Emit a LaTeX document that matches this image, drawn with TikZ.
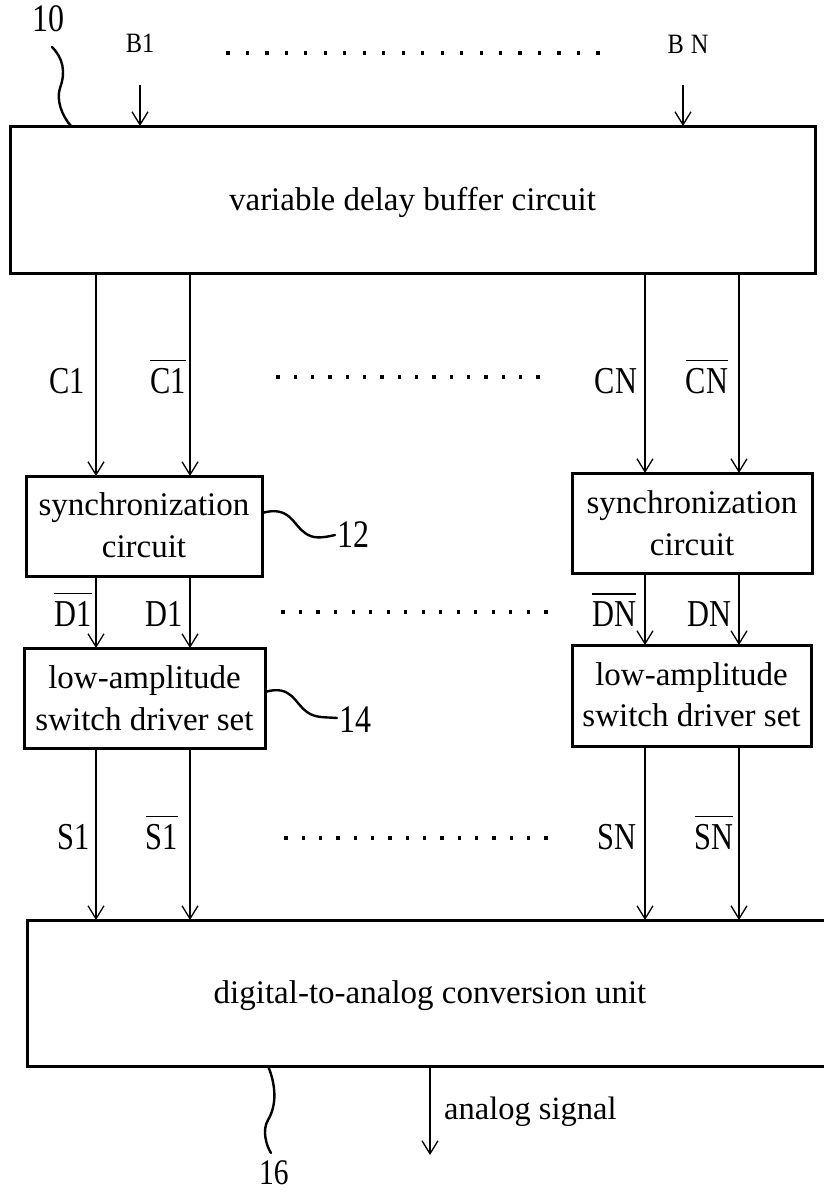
\documentclass[tikz,border=0pt]{standalone}
\usepackage{fontspec}
\setmainfont{Liberation Serif}
\newfontfamily\lblf{Liberation Serif}[FakeStretch=0.8]
\newfontfamily\numf{Liberation Serif}[FakeStretch=0.82]
\newfontfamily\bfnt{Liberation Serif}[FakeStretch=0.87]
\usetikzlibrary{arrows.meta}
\newcommand\ovbar[1]{\vbox{\hrule height 1.3pt\kern 6.5pt\hbox{#1}}}
\begin{document}
\begin{tikzpicture}[x=1pt,y=-1pt,
 blk/.style={draw,line width=3pt,inner sep=0pt,outer sep=0pt},
 arr/.style={line width=1.3pt,-{Straight Barb[length=13pt,width=16pt,line width=1.3pt]}},
 txt/.style={inner sep=0pt,anchor=base,font=\fontsize{33}{38}\selectfont},
 lbl/.style={inner sep=0pt,anchor=base,font=\lblf\fontsize{38}{40}\selectfont},
 num/.style={inner sep=0pt,anchor=base west,font=\numf\fontsize{39}{44}\selectfont},
 inl/.style={inner sep=0pt,anchor=base,font=\bfnt\fontsize{28}{30}\selectfont},
 sq/.style={line width=2.4pt,line cap=round}]
\fill[white] (0,0) rectangle (823,1195);
\useasboundingbox (0,0) rectangle (823,1195);

% blocks
\node[blk,minimum width=805pt,minimum height=147pt] (vdb) at (412.5,199.5) {};
\node[txt] (tvdb) at (412.5,210) {variable delay buffer circuit};
\node[blk,minimum width=236pt,minimum height=100pt] (sy1) at (144,526) {};
\node[txt] (tsy1a) at (144,515) {synchronization};
\node[txt] (tsy1b) at (144,557) {circuit};
\node[blk,minimum width=240pt,minimum height=100pt] (syN) at (692,523) {};
\node[txt] (tsyNa) at (692,513) {synchronization};
\node[txt] (tsyNb) at (692,555) {circuit};
\node[blk,minimum width=241pt,minimum height=100pt] (la1) at (144.5,698) {};
\node[txt] (tla1a) at (144.5,688) {low-amplitude};
\node[txt] (tla1b) at (144.5,730) {switch driver set};
\node[blk,minimum width=239pt,minimum height=101pt] (laN) at (691.5,695.5) {};
\node[txt] (tlaNa) at (691.5,685) {low-amplitude};
\node[txt] (tlaNb) at (691.5,726) {switch driver set};
\node[blk,minimum width=806pt,minimum height=146pt] (dac) at (430,993) {};
\node[txt] (tdac) at (430,1003) {digital-to-analog conversion unit};

% columns
\coordinate (xa) at (96,0);
\coordinate (xb) at (190,0);
\coordinate (xc) at (645,0);
\coordinate (xd) at (739,0);

% inputs
\coordinate (b1) at (140,85);
\coordinate (bN) at (683,85);
\draw[arr] (b1) -- (vdb.north -| b1);
\draw[arr] (bN) -- (vdb.north -| bN);
\node[inl] (lb1) at (140,52) {B1};
\node[inl] (lbN) at (688,53) {B\hspace{7pt}N};

% C arrows
\draw[arr] (vdb.south -| xa) -- (sy1.north -| xa);
\draw[arr] (vdb.south -| xb) -- (sy1.north -| xb);
\draw[arr] (vdb.south -| xc) -- (syN.north -| xc);
\draw[arr] (vdb.south -| xd) -- (syN.north -| xd);
% D arrows
\draw[arr] (sy1.south -| xa) -- (la1.north -| xa);
\draw[arr] (sy1.south -| xb) -- (la1.north -| xb);
\draw[arr] (syN.south -| xc) -- (laN.north -| xc);
\draw[arr] (syN.south -| xd) -- (laN.north -| xd);
% S arrows
\draw[arr] (la1.south -| xa) -- (dac.north -| xa);
\draw[arr] (la1.south -| xb) -- (dac.north -| xb);
\draw[arr] (laN.south -| xc) -- (dac.north -| xc);
\draw[arr] (laN.south -| xd) -- (dac.north -| xd);

% output
\coordinate (out) at (430,1155);
\draw[arr] (dac.south -| out) -- (out);
\node[inner sep=0pt,anchor=base west,font=\fontsize{32.5}{38}\selectfont] (las) at (444,1119) {analog signal};

% labels
\node[lbl] (lc1) at (67,393) {C1};
\node[lbl] (lc1b) at (168,393) {\ovbar{C1}};
\node[lbl] (lcN) at (616,393) {CN};
\node[lbl] (lcNb) at (707,393) {\ovbar{CN}};
\node[lbl] (ld1b) at (73,626) {\ovbar{D1}};
\node[lbl] (ld1) at (164,626) {D1};
\node[lbl] (ldNb) at (614,626) {\ovbar{DN}};
\node[lbl] (ldN) at (709,626) {DN};
\node[lbl] (ls1) at (74,849) {S1};
\node[lbl] (ls1b) at (162,849) {\ovbar{S1}};
\node[lbl] (lsN) at (617,849) {SN};
\node[lbl] (lsNb) at (714,849) {\ovbar{SN}};

% dots
\foreach \i in {0,...,19} \fill ({228+\i*19.47-1.6},50.8) rectangle ++(3.2,4.5);
\foreach \i in {0,...,15} \fill ({278+\i*17.33-1.6},374.8) rectangle ++(3.2,4.5);
\foreach \i in {0,...,15} \fill ({283+\i*17.53-1.6},609.8) rectangle ++(3.2,4.5);
\foreach \i in {0,...,15} \fill ({286+\i*17.33-1.6},835.8) rectangle ++(3.2,4.5);

% reference numerals
\node[num] (n10) at (32,31) {10};
\coordinate (e10) at (71,0);
\draw[sq] (52,47) .. controls (63,58) and (66,72) .. (60,88) .. controls (56,100) and (62,116) .. (vdb.north -| e10);
\node[num] (n12) at (337,547) {12};
\draw[sq] ([yshift=13pt]sy1.east) .. controls (290,505) and (293,525) .. (305,533) .. controls (313,539) and (322,538) .. ([xshift=-2pt,yshift=12pt]n12.base west);
\node[num] (n14) at (339,732) {14};
\draw[sq] ([yshift=6pt]la1.east) .. controls (292,684) and (295,704) .. (307,712) .. controls (315,718) and (324,717) .. ([xshift=-2pt,yshift=14pt]n14.base west);
\node[num,font=\numf\fontsize{36}{40}\selectfont] (n16) at (259,1184) {16};
\draw[sq] ([xshift=-162pt]dac.south) .. controls (276,1085) and (277,1105) .. (268,1120) .. controls (262,1130) and (266,1145) .. (271,1153);
\end{tikzpicture}
\end{document}
